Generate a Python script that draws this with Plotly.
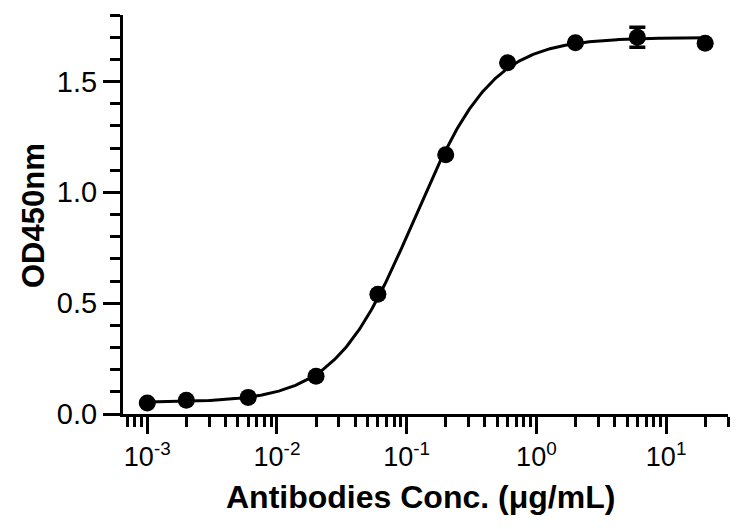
import numpy as np
import plotly.graph_objects as go

# ---- data ----
conc = [0.001, 0.002, 0.006, 0.02, 0.06, 0.2, 0.6, 2, 6, 20]          # µg/mL
od450 = [0.05, 0.062, 0.075, 0.17, 0.54, 1.17, 1.585, 1.675, 1.70, 1.673]
od_err = [0, 0, 0, 0, 0, 0, 0, 0, 0.045, 0]
y_ticks = [0.0, 0.5, 1.0, 1.5]
x_ticks = [0.001, 0.01, 0.1, 1, 10]
x_tick_labels = ["10<sup>-3</sup>", "10<sup>-2</sup>", "10<sup>-1</sup>",
                 "10<sup>0</sup>", "10<sup>1</sup>"]
x_title = "Antibodies Conc. (μg/mL)"
y_title = "OD450nm"

# ---- 4-parameter logistic fit of the data (grid search + linear solve) ----
lx = np.log10(np.array(conc, dtype=float))
yy = np.array(od450, dtype=float)
best = None
for logec in np.linspace(-1.5, -0.5, 201):
    for h in np.linspace(0.8, 2.5, 171):
        f = 1.0 / (1.0 + 10 ** ((logec - lx) * h))
        A = np.vstack([np.ones_like(f), f]).T
        coef, *_ = np.linalg.lstsq(A, yy, rcond=None)
        r = np.sum((A @ coef - yy) ** 2)
        if best is None or r < best[0]:
            best = (r, logec, h, coef)
_, logec, hill, (bottom, span) = best
xc = np.logspace(np.log10(conc[0]), np.log10(conc[-1]), 400)
yc = bottom + span / (1.0 + 10 ** ((logec - np.log10(xc)) * hill))

fig = go.Figure()
fig.add_trace(go.Scatter(x=xc, y=yc, mode="lines",
                         line=dict(color="black", width=3), hoverinfo="skip",
                         showlegend=False))
fig.add_trace(go.Scatter(x=conc, y=od450, mode="markers",
                         marker=dict(color="black", size=17, symbol="circle"),
                         error_y=dict(type="data", array=od_err, visible=True,
                                      color="black", thickness=3.5, width=8),
                         showlegend=False, cliponaxis=False))

font = "Liberation Sans, Arial, sans-serif"
minor_x = [m * 10.0 ** d for d in range(-4, 2) for m in range(2, 10)
           if 0.00065 <= m * 10.0 ** d <= 30]

# the page body has an 8px margin, so the figure is sized/offset to compensate
fig.update_layout(
    width=734, height=521,
    margin=dict(l=115, r=14, t=7, b=115),
    plot_bgcolor="white", paper_bgcolor="white",
    font=dict(family=font, color="black", size=28),
    xaxis=dict(
        type="log", range=[np.log10(0.00065), np.log10(30)],
        tickvals=x_ticks, ticktext=x_tick_labels,
        ticks="outside", ticklen=17, tickwidth=3, tickcolor="black",
        showline=True, linewidth=3, linecolor="black",
        showgrid=False, zeroline=False, automargin=False,
        tickfont=dict(size=27, family=font),
        minor=dict(tickvals=minor_x, ticks="outside", ticklen=10,
                   tickwidth=3, tickcolor="black", showgrid=False),
    ),
    yaxis=dict(
        range=[0, 1.8], tickvals=y_ticks, tickformat=".1f",
        ticks="outside", ticklen=17, tickwidth=3, tickcolor="black",
        showline=True, linewidth=3, linecolor="black",
        showgrid=False, zeroline=False, automargin=False,
        tickfont=dict(size=29, family=font),
        minor=dict(dtick=0.1, tick0=0, ticks="outside", ticklen=10,
                   tickwidth=3, tickcolor="black", showgrid=False),
    ),
    annotations=[
        dict(text=f"<b>{x_title}</b>", xref="paper", yref="paper",
             x=(412 - 115) / 605, y=-(489 - 406) / 399,
             xanchor="center", yanchor="middle", showarrow=False,
             font=dict(size=32, family=font)),
        dict(text=f"<b>{y_title}</b>", xref="paper", yref="paper",
             x=(25 - 115) / 605, y=(406 - 208) / 399, textangle=-90,
             xanchor="center", yanchor="middle", showarrow=False,
             font=dict(size=31, family=font)),
    ],
)

fig.write_html("out.html")
